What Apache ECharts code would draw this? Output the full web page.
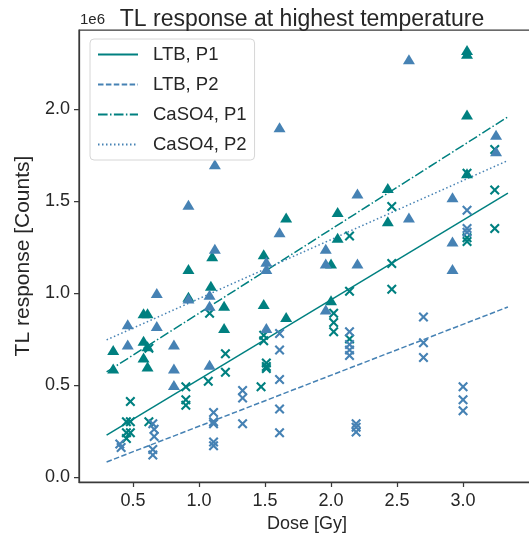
<!DOCTYPE html>
<html>
<head>
<meta charset="utf-8">
<script src="https://cdn.jsdelivr.net/npm/echarts@6/dist/echarts.min.js"></script>
<style>
  html, body { margin: 0; padding: 0; background: #fff; }
  #chart { width: 529px; height: 540px; }
</style>
</head>
<body>
<div id="chart"></div>
<script>
// values in units of 1e6 counts, dose in Gy
const ltbP1 = [
  [0.48, 0.41], [0.45, 0.30], [0.48, 0.30], [0.45, 0.24], [0.48, 0.24], [0.45, 0.21],
  [0.62, 0.30], [0.62, 0.70], [0.90, 0.49], [0.90, 0.42], [0.90, 0.39], [1.07, 0.52],
  [1.20, 0.67], [1.20, 0.57], [1.08, 0.89], [1.47, 0.49], [1.49, 0.77], [1.49, 0.74],
  [1.51, 0.62], [1.51, 0.60], [1.51, 0.59], [2.02, 0.89], [2.02, 0.84], [2.02, 0.79],
  [2.14, 0.75], [2.14, 1.01], [2.46, 1.02], [2.46, 1.16], [2.46, 1.47], [2.14, 1.31],
  [3.03, 1.30], [3.03, 1.28], [3.03, 1.65], [3.24, 1.35], [3.24, 1.56], [3.24, 1.78]
];
const ltbP2 = [
  [0.40, 0.18], [0.41, 0.16], [0.65, 0.29], [0.66, 0.26], [0.66, 0.22], [0.65, 0.15],
  [0.65, 0.12], [1.11, 0.35], [1.11, 0.30], [1.11, 0.29], [1.11, 0.19], [1.11, 0.17],
  [1.33, 0.47], [1.33, 0.43], [1.33, 0.29], [1.61, 0.78], [1.61, 0.69], [1.61, 0.53],
  [1.61, 0.37], [1.61, 0.24], [2.14, 0.79], [2.14, 0.72], [2.14, 0.69], [2.14, 0.66],
  [2.19, 0.29], [2.19, 0.27], [2.19, 0.245], [2.70, 0.87], [2.70, 0.73], [2.70, 0.65],
  [3.00, 0.49], [3.00, 0.42], [3.00, 0.36], [3.03, 1.45], [3.03, 1.35], [3.03, 1.33]
];
const caso4P1 = [
  [0.35, 0.69], [0.35, 0.59], [0.58, 0.89], [0.61, 0.89], [0.58, 0.74], [0.61, 0.71],
  [0.58, 0.65], [0.61, 0.60], [0.92, 1.13], [0.92, 0.98], [1.09, 1.04], [1.10, 1.20],
  [1.19, 0.93], [1.19, 0.81], [1.49, 1.21], [1.49, 0.94], [1.66, 1.41], [1.66, 0.87],
  [2.00, 1.16], [2.00, 0.96], [2.05, 1.44], [2.05, 1.30], [2.43, 1.57], [2.43, 1.39],
  [3.03, 2.32], [3.03, 2.30], [3.03, 1.97], [3.03, 1.65]
];
const caso4P2 = [
  [0.46, 0.83], [0.46, 0.72], [0.68, 1.00], [0.68, 0.82], [0.81, 0.72], [0.81, 0.59],
  [0.81, 0.50], [0.92, 1.48], [0.92, 0.97], [1.08, 0.99], [1.08, 0.93], [1.08, 0.61],
  [1.12, 1.70], [1.12, 1.24], [1.51, 1.17], [1.51, 1.13], [1.51, 0.81], [1.61, 1.90],
  [1.61, 1.33], [1.96, 1.24], [1.96, 1.16], [1.96, 0.91], [2.20, 1.54], [2.20, 1.16],
  [2.59, 2.27], [2.59, 1.41], [2.92, 1.52], [2.92, 1.28], [2.92, 1.13], [3.25, 1.86],
  [3.25, 1.77]
];

// fitted lines (end points)
const fitLtbP1 = [[0.30, 0.228], [3.34, 1.543]];
const fitLtbP2 = [[0.30, 0.082], [3.34, 0.924]];
const fitCaP1 = [[0.30, 0.571], [3.34, 1.957]];
const fitCaP2 = [[0.30, 0.745], [3.34, 1.720]];

const xTicks = [0.5, 1.0, 1.5, 2.0, 2.5, 3.0];
const yTicks = [0.0, 0.5, 1.0, 1.5, 2.0];

const TEAL = '#008080';
const BLUE = '#4682b4';
const INK = '#262626';
const SPINE = '#3a3a3a';
const FONT = '"Liberation Sans", Arial, sans-serif';
const CROSS = 'path://M0,1.5L1.5,0L5,3.5L8.5,0L10,1.5L6.5,5L10,8.5L8.5,10L5,6.5L1.5,10L0,8.5L3.5,5Z';

function scatter (name, data, color, symbol, size) {
  return {
    name: name, type: 'scatter', data: data, symbol: symbol, symbolSize: size,
    itemStyle: { color: color, opacity: 1 }, z: 3
  };
}

function fitLine (name, data, color, dash) {
  return {
    name: name, type: 'line', data: data, symbol: 'none', showSymbol: false,
    lineStyle: { color: color, width: 1.5, type: dash }, itemStyle: { color: color }, z: 2
  };
}

const chart = echarts.init(document.getElementById('chart'), null, { renderer: 'canvas' });

chart.setOption({
  animation: false,
  textStyle: { fontFamily: FONT },
  title: {
    text: 'TL response at highest temperature',
    left: 297, top: 3, textAlign: 'center',
    textStyle: { fontFamily: FONT, fontSize: 23, fontWeight: 'normal', color: INK }
  },
  graphic: [{
    type: 'text', left: 80, top: 12,
    style: { text: '1e6', font: '15px ' + FONT, fill: INK }
  }],
  legend: {
    data: ['LTB, P1', 'LTB, P2', 'CaSO4, P1', 'CaSO4, P2'],
    orient: 'vertical', left: 90, top: 39,
    itemWidth: 40, itemHeight: 12, itemGap: 11,
    padding: [6, 8, 6, 7],
    backgroundColor: 'rgba(255,255,255,0.8)',
    borderColor: '#d6d6d6', borderWidth: 1, borderRadius: 4,
    itemStyle: { opacity: 0 },
    textStyle: { fontFamily: FONT, fontSize: 18.5, color: INK, padding: [0, 0, 0, 10], lineHeight: 18 }
  },
  grid: {
    left: 79, top: 30, width: 456, bottom: 58,
    outerBoundsMode: 'none',
    show: true, borderColor: SPINE, borderWidth: 1.25, backgroundColor: '#fff'
  },
  xAxis: {
    type: 'value', min: 0.0909, max: 3.545,
    name: 'Dose [Gy]', nameLocation: 'middle', nameGap: 32,
    nameTextStyle: { fontFamily: FONT, fontSize: 18, color: INK },
    axisLine: { show: true, onZero: false, lineStyle: { color: SPINE, width: 1.25 } },
    axisTick: { show: true, length: 5, customValues: xTicks, lineStyle: { color: SPINE, width: 1.25 } },
    axisLabel: { customValues: xTicks, fontFamily: FONT, fontSize: 18, color: INK, margin: 10,
      formatter: (v) => v.toFixed(1) },
    splitLine: { show: false }
  },
  yAxis: {
    type: 'value', min: -0.027, max: 2.429,
    name: 'TL response [Counts]', nameLocation: 'middle', nameGap: 42,
    nameTextStyle: { fontFamily: FONT, fontSize: 21, color: INK },
    axisLine: { show: true, onZero: false, lineStyle: { color: SPINE, width: 1.25 } },
    axisTick: { show: true, length: 5, customValues: yTicks, lineStyle: { color: SPINE, width: 1.25 } },
    axisLabel: { customValues: yTicks, fontFamily: FONT, fontSize: 18, color: INK, margin: 9,
      formatter: (v) => v.toFixed(1) },
    splitLine: { show: false }
  },
  series: [
    scatter('LTB P1 data', ltbP1, TEAL, CROSS, 10),
    fitLine('LTB, P1', fitLtbP1, TEAL, 'solid'),
    scatter('LTB P2 data', ltbP2, BLUE, CROSS, 10),
    fitLine('LTB, P2', fitLtbP2, BLUE, [5.5, 2.4]),
    scatter('CaSO4 P1 data', caso4P1, TEAL, 'triangle', [12, 10]),
    fitLine('CaSO4, P1', fitCaP1, TEAL, [9.6, 2.4, 1.5, 2.4]),
    scatter('CaSO4 P2 data', caso4P2, BLUE, 'triangle', [12, 10]),
    fitLine('CaSO4, P2', fitCaP2, BLUE, [1.5, 2.5])
  ]
});
</script>
</body>
</html>
